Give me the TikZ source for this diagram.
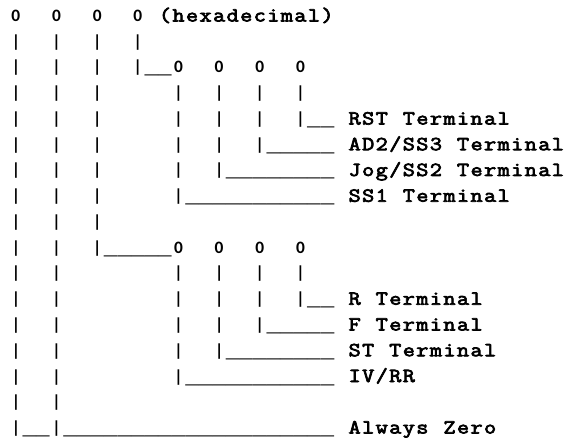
\documentclass[tikz,border=0pt]{standalone}
\usepackage{fontspec}
\newfontfamily\sansdigits{Carlito}
\newfontfamily\monoline{Liberation Mono}
\newfontfamily\lblfam{Latin Modern Mono}[FakeBold=3.5,FakeStretch=1.18]
\newlength\cellw
\setlength\cellw{13.55pt}
\newcommand\zerofont{\sansdigits\bfseries\fontsize{17.4pt}{20pt}\selectfont}
\newcommand\lblfont{\lblfam\fontsize{20pt}{20pt}\selectfont}
\newcommand\usfont{\monoline\bfseries\fontsize{22.6pt}{25pt}\selectfont}
\ExplSyntaxOn
\cs_new:Npn \__ascii_cell:n #1
  {
    \makebox[\cellw][c]
      {
        \tl_if_eq:nnTF {#1} {0} { \zerofont 0 }
          {
            \tl_if_eq:nnTF {#1} {|} { \zerofont | }
              {
                \tl_if_eq:nnTF {#1} {\_} { \raisebox{-1pt}{\usfont \_} }
                  { \lblfont #1 }
              }
          }
      }
  }
\NewDocumentCommand \asciirow { m }
  { \tl_map_inline:nn {#1} { \__ascii_cell:n {##1} } }
\ExplSyntaxOff
\tikzset{
  asciiline/.style={inner sep=0pt, anchor=base west}
}
\begin{document}
\begin{tikzpicture}[x=1pt,y=1pt]
\useasboundingbox (0,0) rectangle (565,-438);
\def\lx{8.93}
\node[asciiline] (l1)  at (\lx,-21.5)   {\asciirow{0~~0~~0~~0~(hexadecimal)}};
\node[asciiline] (l2)  at (\lx,-47.25)  {\asciirow{|~~|~~|~~|}};
\node[asciiline] (l3)  at (\lx,-73.0)   {\asciirow{|~~|~~|~~|\_\_0~~0~~0~~0}};
\node[asciiline] (l4)  at (\lx,-98.75)  {\asciirow{|~~|~~|~~~~~|~~|~~|~~|}};
\node[asciiline] (l5)  at (\lx,-124.5)  {\asciirow{|~~|~~|~~~~~|~~|~~|~~|\_\_~RST~Terminal}};
\node[asciiline] (l6)  at (\lx,-150.25) {\asciirow{|~~|~~|~~~~~|~~|~~|\_\_\_\_\_~AD2/SS3~Terminal}};
\node[asciiline] (l7)  at (\lx,-176.0)  {\asciirow{|~~|~~|~~~~~|~~|\_\_\_\_\_\_\_\_~Jog/SS2~Terminal}};
\node[asciiline] (l8)  at (\lx,-201.75) {\asciirow{|~~|~~|~~~~~|\_\_\_\_\_\_\_\_\_\_\_~SS1~Terminal}};
\node[asciiline] (l9)  at (\lx,-227.5)  {\asciirow{|~~|~~|}};
\node[asciiline] (l10) at (\lx,-253.25) {\asciirow{|~~|~~|\_\_\_\_\_0~~0~~0~~0}};
\node[asciiline] (l11) at (\lx,-279.0)  {\asciirow{|~~|~~~~~~~~|~~|~~|~~|}};
\node[asciiline] (l12) at (\lx,-304.75) {\asciirow{|~~|~~~~~~~~|~~|~~|~~|\_\_~R~Terminal}};
\node[asciiline] (l13) at (\lx,-330.5)  {\asciirow{|~~|~~~~~~~~|~~|~~|\_\_\_\_\_~F~Terminal}};
\node[asciiline] (l14) at (\lx,-356.25) {\asciirow{|~~|~~~~~~~~|~~|\_\_\_\_\_\_\_\_~ST~Terminal}};
\node[asciiline] (l15) at (\lx,-382.0)  {\asciirow{|~~|~~~~~~~~|\_\_\_\_\_\_\_\_\_\_\_~IV/RR}};
\node[asciiline] (l16) at (\lx,-407.75) {\asciirow{|~~|}};
\node[asciiline] (l17) at (\lx,-433.5)  {\asciirow{|\_\_|\_\_\_\_\_\_\_\_\_\_\_\_\_\_\_\_\_\_\_\_~Always~Zero}};
\end{tikzpicture}
\end{document}
